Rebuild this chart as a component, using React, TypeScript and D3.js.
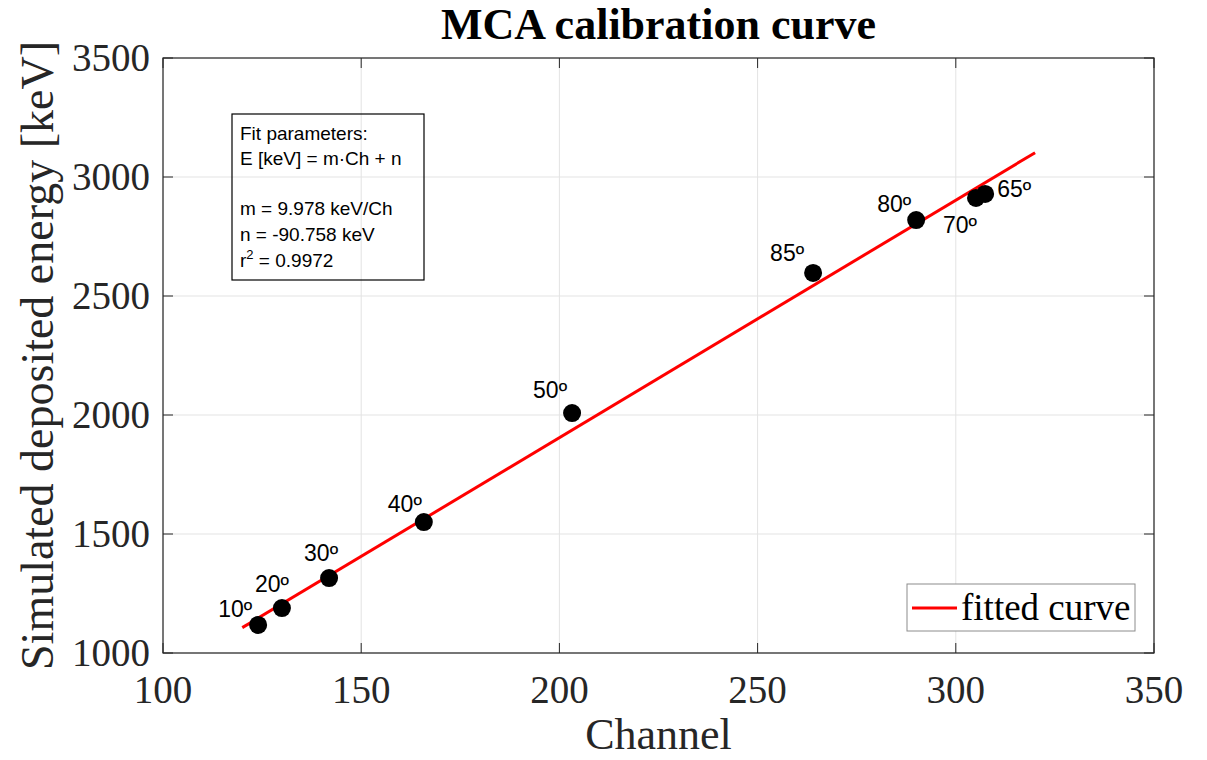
import React from "react";
import * as d3 from "d3";

const angleLabels = ["10º", "20º", "30º", "40º", "50º", "85º", "80º", "70º", "65º"];
const channels = [124.0, 130.0, 141.9, 165.8, 203.2, 264.0, 290.0, 305.1, 307.4];
const energies = [1118, 1189, 1315, 1550, 2008, 2597, 2819, 2912, 2929];
const fitSlope = 9.978;
const fitIntercept = -90.758;
const fitRange = [120, 320];
const xTicks = [100, 150, 200, 250, 300, 350];
const yTicks = [1000, 1500, 2000, 2500, 3000, 3500];
const boxLines = ["Fit parameters:", "E [keV] = m·Ch + n", "", "m = 9.978 keV/Ch", "n = -90.758 keV"];

// pixel offsets of each label (left, baseline) relative to its point
const labelOffsets: [number, number][] = [
  [-40, -8], [-27, -16], [-25, -17], [-36, -10], [-39, -15],
  [-43, -12], [-39, -8], [-33, 35], [12, 3],
];

const W = 1207, H = 760;
const L = 163, R = 1154, T = 58, B = 653;

export default function App() {
  const x = d3.scaleLinear().domain([100, 350]).range([L, R]);
  const y = d3.scaleLinear().domain([1000, 3500]).range([B, T]);
  const fitData = fitRange.map((c) => [c, fitSlope * c + fitIntercept]);
  const line = d3.line<number[]>().x((d) => x(d[0])).y((d) => y(d[1]));
  const axisColor = "#262626";
  const gridColor = "#e3e3e3";
  const serif = "'Liberation Serif', 'Times New Roman', serif";
  const sans = "'Liberation Sans', Arial, sans-serif";
  const tickLen = 10;

  return (
    <svg width={W} height={H} style={{ position: "absolute", left: 0, top: 0, background: "#fff" }}>
      <rect x={0} y={0} width={W} height={H} fill="#fff" />
      {/* grid */}
      {xTicks.map((t) => (
        <line key={"gx" + t} x1={x(t)} x2={x(t)} y1={T} y2={B} stroke={gridColor} strokeWidth={1} />
      ))}
      {yTicks.map((t) => (
        <line key={"gy" + t} x1={L} x2={R} y1={y(t)} y2={y(t)} stroke={gridColor} strokeWidth={1} />
      ))}
      {/* ticks */}
      {xTicks.map((t) => (
        <g key={"tx" + t}>
          <line x1={x(t)} x2={x(t)} y1={B} y2={B - tickLen} stroke={axisColor} strokeWidth={1} />
          <line x1={x(t)} x2={x(t)} y1={T} y2={T + tickLen} stroke={axisColor} strokeWidth={1} />
          <text x={x(t)} y={703} textAnchor="middle" fontFamily={serif} fontSize={39} fill={axisColor}>
            {t}
          </text>
        </g>
      ))}
      {yTicks.map((t) => (
        <g key={"ty" + t}>
          <line x1={L} x2={L + tickLen} y1={y(t)} y2={y(t)} stroke={axisColor} strokeWidth={1} />
          <line x1={R} x2={R - tickLen} y1={y(t)} y2={y(t)} stroke={axisColor} strokeWidth={1} />
          <text x={150} y={y(t) + 13} textAnchor="end" fontFamily={serif} fontSize={39} fill={axisColor}>
            {t}
          </text>
        </g>
      ))}
      {/* fit line */}
      <path d={line(fitData) || ""} fill="none" stroke="#ff0000" strokeWidth={3} />
      {/* points */}
      {channels.map((c, i) => (
        <circle key={"p" + i} cx={x(c)} cy={y(energies[i])} r={9} fill="#000" />
      ))}
      {angleLabels.map((lab, i) => (
        <text
          key={"l" + i}
          x={x(channels[i]) + labelOffsets[i][0]}
          y={y(energies[i]) + labelOffsets[i][1]}
          fontFamily={sans}
          fontSize={23}
          fill="#000"
        >
          {lab}
        </text>
      ))}
      {/* axes box */}
      <rect x={L} y={T} width={R - L} height={B - T} fill="none" stroke={axisColor} strokeWidth={1.2} />
      {/* parameter box */}
      <rect x={232} y={114} width={192} height={166} fill="none" stroke="#000" strokeWidth={1.2} />
      {boxLines.map((s, i) => (
        <text key={"b" + i} x={240} y={139.5 + i * 25.3} fontFamily={sans} fontSize={19} fill="#000">
          {s}
        </text>
      ))}
      <text x={240} y={266.5} fontFamily={sans} fontSize={19} fill="#000">
        r<tspan fontSize={13} dy={-8}>2</tspan>
        <tspan dy={8}> = 0.9972</tspan>
      </text>
      {/* legend */}
      <rect x={907} y={584} width={228} height={47} fill="#fff" stroke="#8c8c8c" strokeWidth={1} />
      <line x1={912} x2={957} y1={608} y2={608} stroke="#ff0000" strokeWidth={3} />
      <text x={961} y={620} fontFamily={serif} fontSize={37} fill="#000">
        fitted curve
      </text>
      {/* labels */}
      <text x={(L + R) / 2} y={39} textAnchor="middle" fontFamily={serif} fontSize={44} fontWeight="bold" fill="#000">
        MCA calibration curve
      </text>
      <text x={(L + R) / 2} y={749} textAnchor="middle" fontFamily={serif} fontSize={44} fill={axisColor}>
        Channel
      </text>
      <text
        transform={`translate(53, ${(T + B) / 2}) rotate(-90)`}
        textAnchor="middle"
        fontFamily={serif}
        fontSize={46}
        fill={axisColor}
      >
        Simulated deposited energy [keV]
      </text>
    </svg>
  );
}
